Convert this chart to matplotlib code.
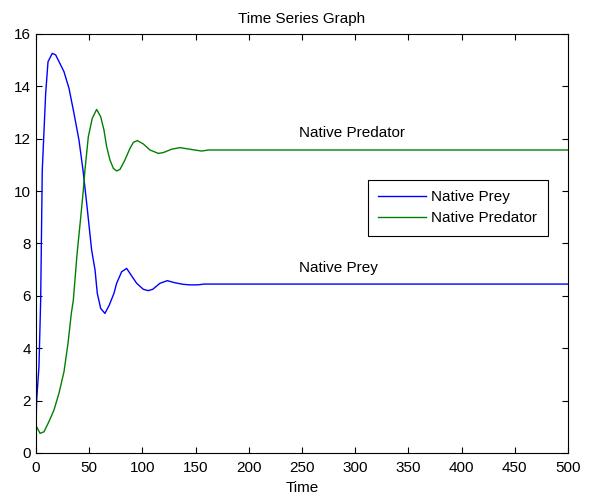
import matplotlib
matplotlib.use("Agg")
import matplotlib.pyplot as plt

plt.rcParams["font.family"] = ["Liberation Sans", "DejaVu Sans"]
plt.rcParams["font.size"] = 11

# values
prey_t = [0, 0.6, 2.8, 4.4, 5.9, 9.1, 11.3, 15.3, 18.5, 26.3, 31, 35.7, 40.4,
          44.2, 48, 52.3, 55.5, 57.6, 60.8, 64.8, 68.9, 73.3, 75.8, 80.5, 85.2,
          88.3, 94.6, 100.9, 105.5, 109.7, 116.5, 123.4, 130.6, 138.4, 144.7,
          152, 158, 500]
prey_v = [1.0, 2.0, 3.3, 5.84, 10.8, 13.73, 14.94, 15.26, 15.2, 14.56, 13.93,
          12.97, 11.95, 10.8, 9.4, 7.75, 6.99, 6.1, 5.52, 5.33, 5.65, 6.1, 6.48,
          6.92, 7.05, 6.86, 6.48, 6.25, 6.2, 6.25, 6.48, 6.58, 6.5, 6.44, 6.42,
          6.42, 6.45, 6.45]

pred_t = [0, 0.6, 3.8, 7.5, 12.2, 16.9, 21.6, 26.3, 30.1, 33.2, 35.1, 38.6,
          41.8, 44.5, 46, 49.2, 52.9, 57, 60.8, 63.9, 66.4, 69.5, 72.7, 75.8,
          79, 83.6, 88.3, 91.5, 95.2, 100.9, 107.1, 115, 119.6, 127.5, 135.3,
          146, 155.7, 162, 500]
pred_v = [1.0, 1.0, 0.75, 0.81, 1.2, 1.64, 2.28, 3.1, 4.19, 5.33, 5.84, 7.6,
          8.9, 10.04, 10.8, 12.08, 12.78, 13.12, 12.84, 12.33, 11.7, 11.19,
          10.87, 10.77, 10.83, 11.19, 11.63, 11.86, 11.93, 11.8, 11.57, 11.44,
          11.47, 11.6, 11.66, 11.59, 11.53, 11.57, 11.57]

xticks = list(range(0, 501, 50))
yticks = list(range(0, 17, 2))

fig = plt.figure(figsize=(5.89, 4.96), dpi=100)
ax = fig.add_axes([0.0611, 0.0867, 0.9032, 0.8448])

ax.plot(prey_t, prey_v, color="#0000ff", lw=1.0, label="Native Prey")
ax.plot(pred_t, pred_v, color="#008000", lw=1.0, label="Native Predator")

ax.text(247, 12.22, "Native Predator", ha="left", va="center")
ax.text(247, 7.06, "Native Prey", ha="left", va="center")

ax.set_xlim(0, 500)
ax.set_ylim(0, 16)
ax.set_xticks(xticks)
ax.set_yticks(yticks)
ax.tick_params(direction="in", top=True, right=True, length=4, width=0.8)
ax.tick_params(axis="x", pad=5.5)
ax.tick_params(axis="y", pad=3.5)
for s in ax.spines.values():
    s.set_linewidth(0.8)

ax.set_title("Time Series Graph", fontsize=11, pad=8)
ax.set_xlabel("Time", labelpad=4.5)

leg = ax.legend(loc="upper right", bbox_to_anchor=(0.962, 0.652), frameon=True,
                fancybox=False, edgecolor="black", framealpha=1,
                handlelength=3.1, borderpad=0.7, labelspacing=0.45,
                handletextpad=0.35, borderaxespad=0)
leg.get_frame().set_linewidth(0.8)

fig.savefig("out.png", dpi=100)
